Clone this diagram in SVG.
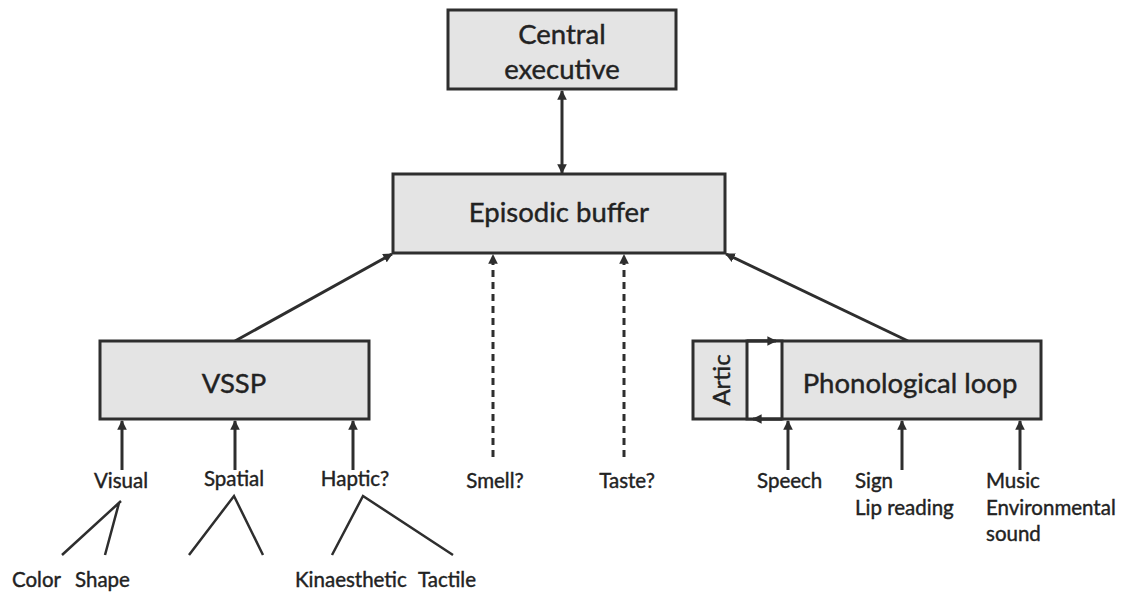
<svg xmlns="http://www.w3.org/2000/svg" width="1129" height="595" viewBox="0 0 1129 595">
<style>
.box{fill:#e4e4e4;stroke:#2e2e2e;stroke-width:3}
.wbox{fill:#ffffff;stroke:#2e2e2e;stroke-width:3}
.big{font-family:Lato,"Liberation Sans",sans-serif;font-size:27.5px;fill:#222;stroke:#222;stroke-width:0.4;text-anchor:middle}
.sm{font-family:Lato,"Liberation Sans",sans-serif;font-size:20.5px;fill:#222;stroke:#222;stroke-width:0.4}
.c{stroke:#2e2e2e;stroke-width:3;fill:none}
.d{stroke:#2e2e2e;stroke-width:3;fill:none;stroke-dasharray:7,5}
.t{stroke:#2e2e2e;stroke-width:2.5;fill:none}
</style>
<defs>
<marker id="ah" viewBox="0 0 10 10" refX="9" refY="5" markerWidth="3.2" markerHeight="3.2" orient="auto-start-reverse" markerUnits="strokeWidth">
<path d="M0,0 L10,5 L0,10 z" fill="#2e2e2e"/>
</marker>
</defs>
<rect width="1129" height="595" fill="#ffffff"/>
<g id="connectors">
<line class="c" x1="562" y1="91" x2="562" y2="173" marker-start="url(#ah)" marker-end="url(#ah)"/>
<line class="c" x1="235" y1="341" x2="392" y2="254" marker-end="url(#ah)"/>
<line class="c" x1="908" y1="341" x2="726" y2="254" marker-end="url(#ah)"/>
<line class="d" x1="493" y1="457" x2="493" y2="255" marker-end="url(#ah)"/>
<line class="d" x1="624" y1="457" x2="624" y2="255" marker-end="url(#ah)"/>
<line class="c" x1="122" y1="470" x2="122" y2="421" marker-end="url(#ah)"/>
<line class="c" x1="235" y1="470" x2="235" y2="421" marker-end="url(#ah)"/>
<line class="c" x1="353" y1="470" x2="353" y2="421" marker-end="url(#ah)"/>
<line class="c" x1="788" y1="470" x2="788" y2="421" marker-end="url(#ah)"/>
<line class="c" x1="902" y1="470" x2="902" y2="421" marker-end="url(#ah)"/>
<line class="c" x1="1020" y1="470" x2="1020" y2="421" marker-end="url(#ah)"/>
<path class="t" d="M62,555 L121,501 M105,555 L119,503"/>
<path class="t" d="M189,555 L234,496 L263,555"/>
<path class="t" d="M332,555 L363,496 L453,555"/>
</g>
<g id="central-executive">
<rect class="box" x="448" y="10" width="228" height="79"/>
<text class="big" x="562" y="44">Central</text>
<text class="big" x="562" y="79">executive</text>
</g>
<g id="episodic-buffer">
<rect class="box" x="393" y="174" width="332" height="79"/>
<text class="big" x="559" y="222">Episodic buffer</text>
</g>
<g id="vssp">
<rect class="box" x="100" y="341" width="269" height="78"/>
<text class="big" x="234" y="393">VSSP</text>
</g>
<g id="phonological-loop">
<rect class="box" x="693" y="341" width="348" height="78"/>
<rect class="wbox" x="747" y="341" width="35" height="78"/>
<text class="big" x="910" y="393">Phonological loop</text>
<text class="big" transform="translate(730,380) rotate(-90)" style="font-size:24px">Artic</text>
<line class="c" x1="747" y1="341" x2="776" y2="341" marker-end="url(#ah)"/>
<line class="c" x1="782" y1="419" x2="753" y2="419" marker-end="url(#ah)"/>
</g>
<g id="labels">
<text class="sm" x="121" y="488" text-anchor="middle">Visual</text>
<text class="sm" x="234" y="486" text-anchor="middle">Spatial</text>
<text class="sm" x="355" y="486" text-anchor="middle">Haptic?</text>
<text class="sm" x="495" y="488" text-anchor="middle">Smell?</text>
<text class="sm" x="627" y="488" text-anchor="middle">Taste?</text>
<text class="sm" x="12" y="587">Color</text>
<text class="sm" x="75" y="587">Shape</text>
<text class="sm" x="295" y="587">Kinaesthetic</text>
<text class="sm" x="418" y="587">Tactile</text>
<text class="sm" x="757" y="488">Speech</text>
<text class="sm" x="855" y="488">Sign</text>
<text class="sm" x="855" y="515">Lip reading</text>
<text class="sm" x="986" y="488">Music</text>
<text class="sm" x="986" y="515">Environmental</text>
<text class="sm" x="986" y="541">sound</text>
</g>
</svg>
